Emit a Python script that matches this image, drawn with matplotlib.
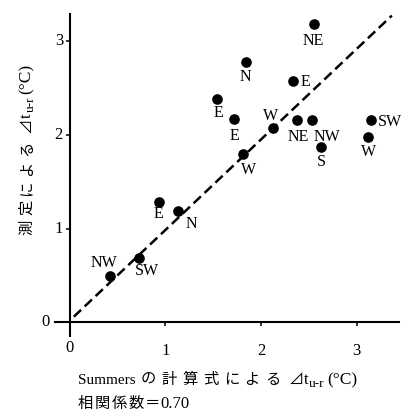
import matplotlib
matplotlib.use("Agg")
import matplotlib.pyplot as plt

# ---------------- data ----------------
directions = ["NE", "N", "E", "E", "E", "W", "NE", "NW", "S", "SW", "W", "W",
              "E", "N", "NW", "SW"]
calc_dt = [2.55, 1.84, 2.34, 1.54, 1.72, 2.13, 2.38, 2.53, 2.63, 3.15, 3.12, 1.81,
           0.93, 1.13, 0.42, 0.72]
meas_dt = [3.18, 2.78, 2.57, 2.38, 2.17, 2.07, 2.16, 2.16, 1.87, 2.16, 1.98, 1.79,
           1.28, 1.19, 0.49, 0.69]
ref_x = [0.04, 3.37]
ref_y = [0.06, 3.27]
x_ticks = [0, 1, 2, 3]
y_ticks = [0, 1, 2, 3]
x_tick_labels = ["0", "1", "2", "3"]
y_tick_labels = ["0", "1", "2", "3"]

# label offsets in pixels (dx right, dy down) -- style only
label_offsets = [(0, 17), (0, 15), (12, 1), (1, 14), (0, 17), (-3, -12), (1, 17),
                 (15, 17), (0, 15), (19, 2), (1, 15), (6, 16),
                 (0, 12), (13, 13), (-6, -13), (8, 13)]

W, H = 406, 416
SERIF = ["Liberation Serif", "DejaVu Serif"]
CJK = ["Noto Sans CJK JP", "DejaVu Sans"]

fig = plt.figure(figsize=(W / 100, H / 100), dpi=100)
fig.patch.set_facecolor("white")
renderer = fig.canvas.get_renderer()

ax = fig.add_axes([54.7 / W, (H - 336.4) / H, 344.8 / W, 322.7 / H])
ax.set_xlim(-0.16, 3.45)
ax.set_ylim(-0.15, 3.29)
for s in ("top", "right"):
    ax.spines[s].set_visible(False)
ax.spines["left"].set_position(("data", 0))
ax.spines["bottom"].set_position(("data", 0))
for s in ("left", "bottom"):
    ax.spines[s].set_linewidth(1.5)
ax.set_xticks(x_ticks)
ax.set_yticks(y_ticks)
ax.tick_params(direction="out", length=3, width=1.1, labelleft=False, labelbottom=False)
ax.patch.set_alpha(0)

# reference dashed line
ax.plot(ref_x, ref_y, color="black", lw=1.8, ls=(0, (4, 2)), clip_on=False, zorder=2)

# points
ax.scatter(calc_dt, meas_dt, s=44, color="black", zorder=3, clip_on=False)
for lab, x, y, (dx, dy) in zip(directions, calc_dt, meas_dt, label_offsets):
    ax.annotate(lab, xy=(x, y), xytext=(dx * 0.72, -dy * 0.72), textcoords="offset points",
                ha="center", va="center", family=SERIF, fontsize=11.5)

# tick labels
for v, t in zip(x_ticks, x_tick_labels):
    off = 26 if v == 0 else 29
    ax.annotate(t, xy=(v, 0), xytext=(0, -off * 0.72), textcoords="offset points",
                ha="center", va="center", family=SERIF, fontsize=12)
for v, t in zip(y_ticks, y_tick_labels):
    off = 20 if v == 0 else 7
    ax.annotate(t, xy=(0, v), xytext=(-off * 0.72, 0), textcoords="offset points",
                ha="right", va="center", family=SERIF, fontsize=12)


def run_text(pieces, x0, y0, rot=0):
    """pieces: (text, family, size, gap_px, down_px, char_spacing_px)"""
    pos = 0.0
    for s, fam, size, gap, down, cs in pieces:
        chars = list(s) if cs else [s]
        for i, ch in enumerate(chars):
            pos += gap if i == 0 else cs
            if rot == 0:
                X, Y = x0 + pos, (H - y0) - down
            else:
                X, Y = x0 + down, (H - y0) + pos
            t = fig.text(X / W, Y / H, ch, family=fam, size=size, rotation=rot,
                         rotation_mode="anchor", ha="left", va="baseline")
            bb = t.get_window_extent(renderer)
            pos += bb.width if rot == 0 else bb.height


# x label line 1 and 2
run_text([
    ("Summers", SERIF, 11, 0, 0, 0),
    ("の計算式による", CJK, 11, 5, 0, 5.5),
    ("⊿", CJK, 11, 8, 0, 0),
    ("t", SERIF, 12, 0, 0, 0),
    ("u-r", SERIF, 9.5, 0.5, 3, 0),
    ("(°C)", SERIF, 12.5, 3, 0, 0),
], 78, 384)
run_text([
    ("相関係数", CJK, 11, 0, 0, 1.5),
    ("＝", CJK, 11, 1.5, 0, 0),
    ("0.70", SERIF, 12, 0, 0, 0),
], 78, 408)

# y label (rotated)
run_text([
    ("測定による", CJK, 11, 0, 0, 4.5),
    ("⊿", CJK, 11, 8, 0, 0),
    ("t", SERIF, 12, 0, 0, 0),
    ("u-r", SERIF, 9.5, 0.5, 3, 0),
    ("(°C)", SERIF, 12.5, 3, 0, 0),
], 31, 235, rot=90)

fig.savefig("out.png", dpi=100, facecolor="white")
